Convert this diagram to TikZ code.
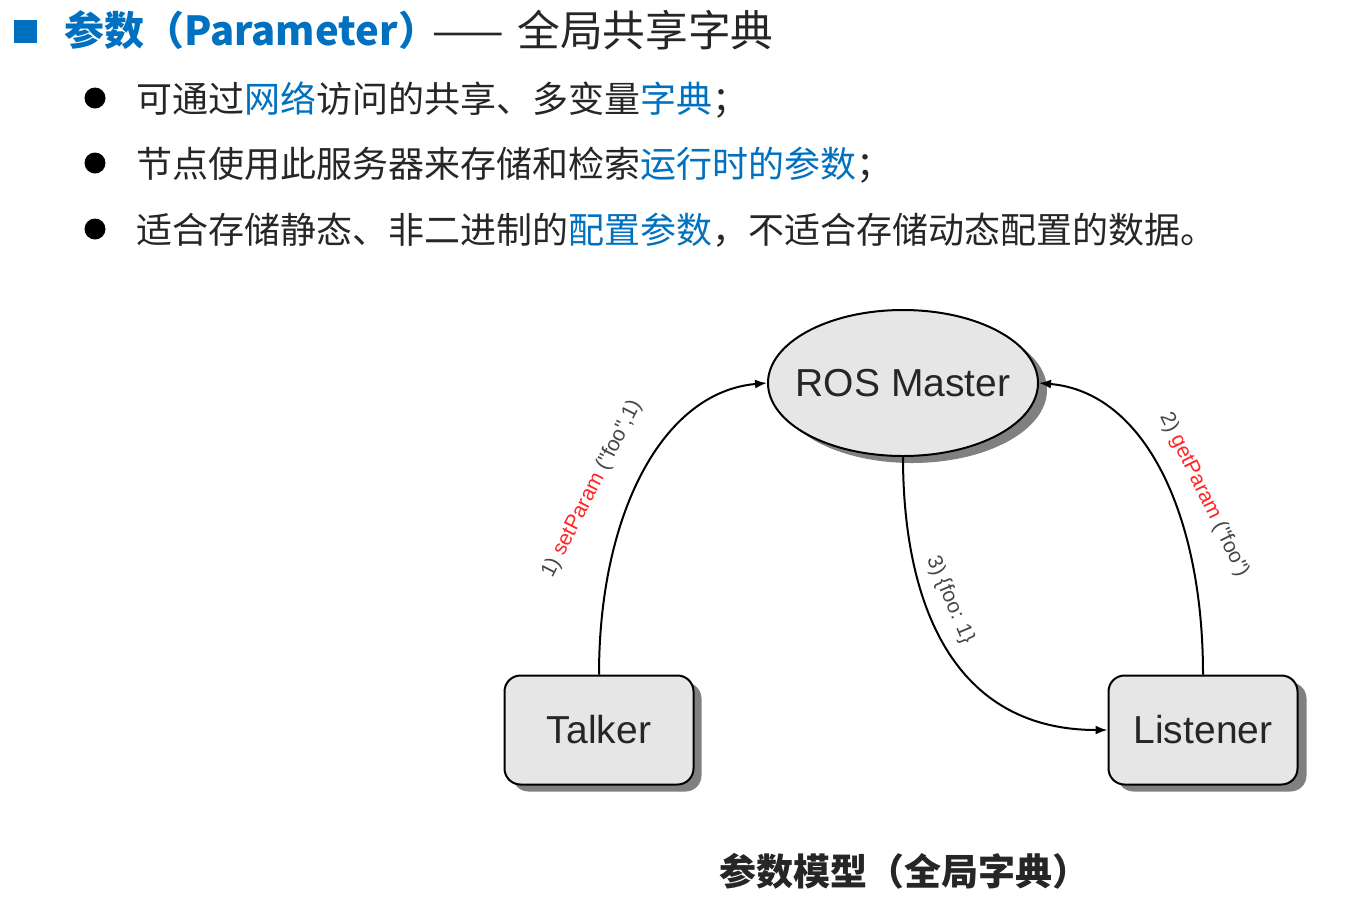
\documentclass[tikz,border=0pt]{standalone}
\usepackage{fontspec}
\usetikzlibrary{arrows.meta,shapes.geometric}
\setmainfont{Noto Sans CJK SC}
\newfontfamily\dgm{Liberation Sans}
\definecolor{hblue}{HTML}{0070C0}
\definecolor{ink}{HTML}{262626}
\definecolor{fillg}{HTML}{E6E6E6}
\definecolor{shad}{HTML}{808080}
\newcommand{\hb}[1]{\textcolor{hblue}{#1}}
\tikzset{
 line/.style={anchor=west,inner sep=0pt,text=ink,font=\fontsize{36}{40}\selectfont},
 dot/.style={circle,fill=black,inner sep=0pt,minimum size=21pt},
 rbox/.style={draw=black,line width=2pt,rounded corners=16pt,fill=fillg,minimum width=189pt,minimum height=109pt,text=ink,font=\dgm\fontsize{39}{41}\selectfont,inner sep=0pt},
 rshad/.style={rectangle,fill=shad,rounded corners=16pt,minimum width=189pt,minimum height=109pt,inner sep=0pt},
 oval/.style={ellipse,draw=black,line width=2pt,fill=fillg,minimum width=270pt,minimum height=146pt,inner sep=0pt},
 conn/.style={draw=black,line width=2pt,-{Latex[length=12pt,width=9pt]}},
 elab/.style={inner sep=0pt,text=ink!85,font=\dgm\fontsize{21}{23}\selectfont},
}
\begin{document}
\begin{tikzpicture}[x=1pt,y=-1pt]
\useasboundingbox (0,0) rectangle (1360,898);
\fill[white] (0,0) rectangle (1360,898);
% heading
\node[rectangle,fill=hblue,minimum size=23pt,inner sep=0pt] (sq) at (25,31) {};
\node[anchor=west,inner sep=0pt,text=hblue,font=\bfseries\fontsize{40}{44}\selectfont] (h1) at (64,30) {参数（Parameter）};
\node[anchor=west,inner sep=0pt,text=ink,font=\fontsize{42.7}{46}\selectfont] (h2) at (432,30) {——\hspace{4pt} 全局共享字典};
% bullets
\node[dot] (d1) at (95,98) {};
\node[dot] (d2) at (95,163) {};
\node[dot] (d3) at (95,229) {};
\node[line] (l1) at (136,100) {可通过\hb{网络}访问的共享、多变量\hb{字典}；};
\node[line] (l2) at (136,165) {节点使用此服务器来存储和检索\hb{运行时的参数}；};
\node[line] (l3) at (136,230) {适合存储静态、非二进制的\hb{配置参数}，不适合存储动态配置的数据。};
% shadows
\node[ellipse,fill=shad,minimum width=270pt,minimum height=146pt,inner sep=0pt] (ms) at (912,390) {};
\node[rshad] (ts) at (607,737) {};
\node[rshad] (ls) at (1212,737) {};
% nodes
\node[oval] (m) at (903,383) {};
\node[inner sep=0pt,text=ink,font=\dgm\fontsize{39}{41}\selectfont] (mt) at (903,383) {ROS Master};
\node[rbox] (t) at (599,730) {Talker};
\node[rbox] (l) at (1203,730) {Listener};
% connectors
\draw[conn] (t.north) .. controls (599,515) and (662,392) .. (m.west);
\draw[conn] (l.north) .. controls (1203,515) and (1145,392) .. (m.east);
\draw[conn] (m.south) .. controls (903,590) and (945,730) .. (l.west);
% edge labels
\node[elab,rotate=63] (e1) at (592,489) {1) \textcolor{red!85!white}{setParam} ("foo",1)};
\node[elab,rotate=-64] (e2) at (1204,495) {2) \textcolor{red!85!white}{getParam} ("foo")};
\node[elab,rotate=-67] (e3) at (950,600) {3) \{foo: 1\}};
% caption
\node[inner sep=0pt,text=ink,font=\bfseries\fontsize{37}{40}\selectfont] (cap) at (904,871) {参数模型（全局字典）};
\end{tikzpicture}
\end{document}
